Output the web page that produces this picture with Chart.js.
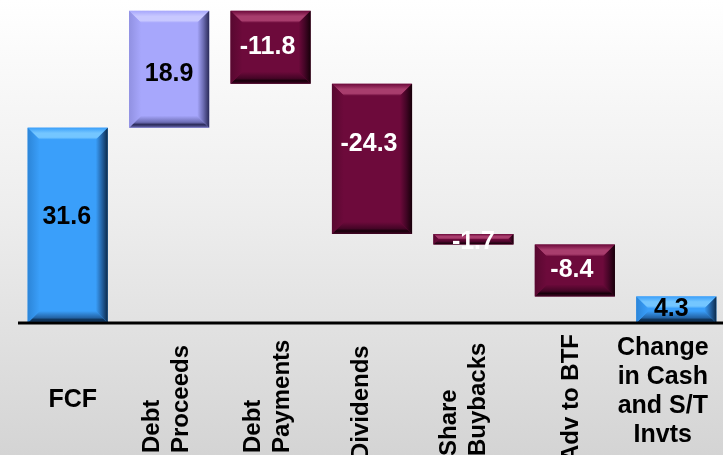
<!DOCTYPE html>
<html>
<head>
<meta charset="utf-8">
<script src="https://cdn.jsdelivr.net/npm/chart.js@4.4.1/dist/chart.umd.min.js"></script>
<style>
    html, body {
        margin: 0;
        padding: 0;
        overflow: hidden;
        width: 723px;
        height: 455px;
    }
    body {
        background: linear-gradient(to bottom, #ffffff 0%, #eeeeee 45%, #d4d4d4 100%);
    }
    canvas { display: block; }
</style>
</head>
<body>
<canvas id="waterfall" width="728" height="455"></canvas>
<script>
// waterfall data (billions)
const categories = ['FCF', 'Debt Proceeds', 'Debt Payments', 'Dividends', 'Share Buybacks', 'Adv to BTF', 'Change in Cash and S/T Invts'];
const labelLines = [
    ['FCF'],
    ['Debt', 'Proceeds'],
    ['Debt', 'Payments'],
    ['Dividends'],
    ['Share', 'Buybacks'],
    ['Adv to BTF'],
    ['Change', 'in Cash', 'and S/T', 'Invts']
];
const changes = [31.6, 18.9, -11.8, -24.3, -1.7, -8.4];
const endTotal = 4.3;
const yTicks = [0, 52];

// floating ranges built from the steps
let running = 0;
const ranges = changes.map(v => {
    const r = [running, running + v];
    running += v;
    return r;
});
ranges.push([0, endTotal]);
const allValues = changes.concat([endTotal]);

// palette: main / light stripe / dark edge / bottom band / left band
const BLUE = { main: '#3a9ffa', light: '#74c6ff', dark: '#0c2a4a', bottom: '#2464a6', left: '#2c85d8', text: '#000000' };
const LAV = { main: '#a7a7fc', light: '#c8c8ff', dark: '#2a2a58', bottom: '#6d6db4', left: '#9191e2', text: '#000000' };
const MAROON = { main: '#6d0a3b', light: '#a83d6d', dark: '#160009', bottom: '#440526', left: '#580830', text: '#ffffff' };

function paletteFor(i) {
    if (i === 0 || i === allValues.length - 1) return BLUE;
    return allValues[i] > 0 ? LAV : MAROON;
}

function drawBevel(ctx, x0, y0, x1, y1, p) {
    const h = y1 - y0, w = x1 - x0;
    const b = Math.min(12, h / 2, w / 2);
    ctx.fillStyle = p.main;
    ctx.fillRect(x0, y0, w, h);

    // top band
    let g = ctx.createLinearGradient(0, y0, 0, y0 + b);
    g.addColorStop(0, p.main);
    g.addColorStop(0.45, p.light);
    g.addColorStop(0.8, p.light);
    g.addColorStop(1, p.main);
    ctx.fillStyle = g;
    ctx.beginPath();
    ctx.moveTo(x0, y0); ctx.lineTo(x1, y0); ctx.lineTo(x1 - b, y0 + b); ctx.lineTo(x0 + b, y0 + b);
    ctx.closePath(); ctx.fill();

    // bottom band
    g = ctx.createLinearGradient(0, y1 - b, 0, y1);
    g.addColorStop(0, p.main);
    g.addColorStop(0.55, p.bottom);
    g.addColorStop(0.75, p.dark);
    g.addColorStop(1, p.bottom);
    ctx.fillStyle = g;
    ctx.beginPath();
    ctx.moveTo(x0, y1); ctx.lineTo(x1, y1); ctx.lineTo(x1 - b, y1 - b); ctx.lineTo(x0 + b, y1 - b);
    ctx.closePath(); ctx.fill();

    // left band
    g = ctx.createLinearGradient(x0, 0, x0 + b, 0);
    g.addColorStop(0, p.left);
    g.addColorStop(1, p.main);
    ctx.fillStyle = g;
    ctx.beginPath();
    ctx.moveTo(x0, y0); ctx.lineTo(x0 + b, y0 + b); ctx.lineTo(x0 + b, y1 - b); ctx.lineTo(x0, y1);
    ctx.closePath(); ctx.fill();

    // right band
    g = ctx.createLinearGradient(x1 - b, 0, x1, 0);
    g.addColorStop(0, p.main);
    g.addColorStop(0.5, p.bottom);
    g.addColorStop(1, p.dark);
    ctx.fillStyle = g;
    ctx.beginPath();
    ctx.moveTo(x1, y0); ctx.lineTo(x1 - b, y0 + b); ctx.lineTo(x1 - b, y1 - b); ctx.lineTo(x1, y1);
    ctx.closePath(); ctx.fill();
}

const FONT = '"Liberation Sans", Arial, sans-serif';

// small per-label nudges to sit like the original slide
const valueNudge = [[-1, -8], [0, 5], [-3, 0], [-3, -15], [0, 3], [-3, 0], [-5, -1]];
const catLayout = [
    { rot: false, dx: 5, top: 77 },
    { rot: true, dx: -2, start: 453 },
    { rot: true, dx: -2.5, start: 453 },
    { rot: true, dx: -11, start: 460 },
    { rot: true, dx: -10, start: 456 },
    { rot: true, dx: -3.5, start: 462 },
    { rot: false, dx: -13.5, top: 25.5 }
];

const waterfallPlugin = {
    id: 'waterfall',
    afterDatasetsDraw(chart) {
        const ctx = chart.ctx;
        const meta = chart.getDatasetMeta(0);
        const xScale = chart.scales.x;
        const yScale = chart.scales.y;
        const axisY = yScale.getPixelForValue(0);

        ctx.save();
        meta.data.forEach((bar, i) => {
            const x0 = bar.x - bar.width / 2;
            const x1 = bar.x + bar.width / 2;
            const y0 = Math.min(bar.y, bar.base);
            const y1 = Math.max(bar.y, bar.base);
            drawBevel(ctx, x0, y0, x1, y1, paletteFor(i));
        });

        // baseline
        ctx.strokeStyle = '#000000';
        ctx.lineWidth = 3;
        ctx.beginPath();
        ctx.moveTo(chart.chartArea.left + 1, axisY);
        ctx.lineTo(chart.width, axisY);
        ctx.stroke();

        // value labels
        ctx.font = 'bold 25px ' + FONT;
        ctx.textAlign = 'center';
        ctx.textBaseline = 'middle';
        meta.data.forEach((bar, i) => {
            const mid = (bar.y + bar.base) / 2;
            ctx.fillStyle = paletteFor(i).text;
            ctx.fillText(allValues[i].toFixed(1), bar.x + valueNudge[i][0], mid + valueNudge[i][1]);
        });

        // category labels
        ctx.fillStyle = '#000000';
        labelLines.forEach((lines, i) => {
            const lay = catLayout[i];
            const cx = xScale.getPixelForValue(i) + lay.dx;
            if (lay.rot) {
                ctx.font = 'bold 24px ' + FONT;
                ctx.textAlign = 'left';
                lines.forEach((line, j) => {
                    const lx = cx + (j - (lines.length - 1) / 2) * 29;
                    ctx.save();
                    ctx.translate(lx, lay.start);
                    ctx.rotate(-Math.PI / 2);
                    ctx.fillText(line, 0, 0);
                    ctx.restore();
                });
            } else {
                ctx.font = 'bold 25px ' + FONT;
                ctx.textAlign = 'center';
                lines.forEach((line, j) => {
                    ctx.fillText(line, cx, axisY + lay.top + j * 29);
                });
            }
        });
        ctx.restore();
    }
};

window.onload = function () {
    const ctx = document.getElementById('waterfall').getContext('2d');
    new Chart(ctx, {
        type: 'bar',
        data: {
            labels: categories,
            datasets: [{
                data: ranges,
                backgroundColor: 'rgba(0,0,0,0)',
                borderWidth: 0,
                barPercentage: 0.79,
                categoryPercentage: 1.0
            }]
        },
        options: {
            responsive: false,
            animation: false,
            layout: { padding: { left: 17, right: 1, top: 1.6, bottom: 132 } },
            plugins: {
                legend: { display: false },
                tooltip: { enabled: false }
            },
            scales: {
                x: { display: false },
                y: { display: false, min: yTicks[0], max: yTicks[1] }
            }
        },
        plugins: [waterfallPlugin]
    });
};
</script>
</body>
</html>
